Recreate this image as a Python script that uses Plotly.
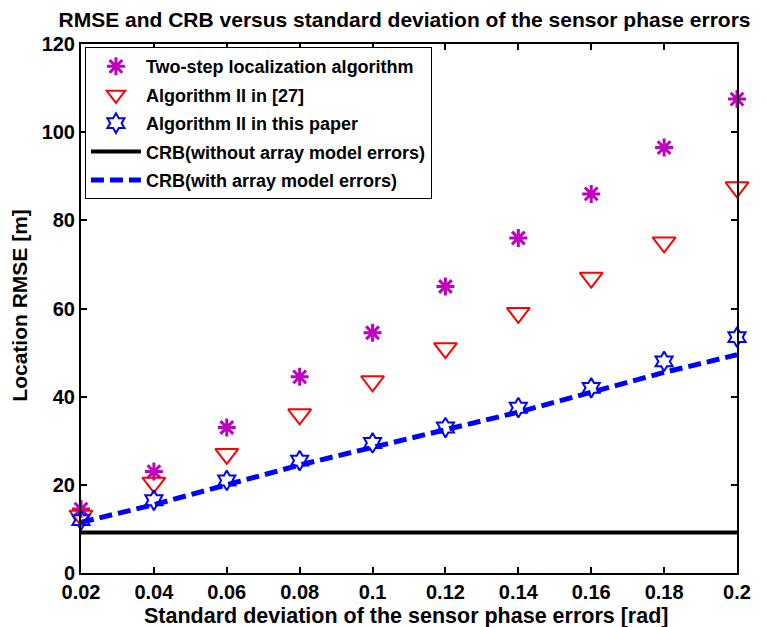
import plotly.graph_objects as go

x = [0.02, 0.04, 0.06, 0.08, 0.10, 0.12, 0.14, 0.16, 0.18, 0.20]
two_step = [14.5, 23.0, 33.0, 44.5, 54.5, 65.0, 76.0, 86.0, 96.5, 107.5]
alg_ref27 = [13.0, 20.5, 27.0, 36.0, 43.5, 51.0, 59.0, 67.0, 75.0, 87.5]
alg_this = [12.0, 16.5, 21.0, 25.5, 29.5, 33.0, 37.5, 42.0, 48.0, 53.5]
crb_with = [11.5, 15.5, 20.0, 24.5, 28.5, 32.5, 36.5, 41.0, 45.5, 49.5]
crb_without = [9.2] * 10

x_ticks = [0.02, 0.04, 0.06, 0.08, 0.1, 0.12, 0.14, 0.16, 0.18, 0.2]
x_ticklabels = ["0.02", "0.04", "0.06", "0.08", "0.1", "0.12", "0.14", "0.16", "0.18", "0.2"]
y_ticks = [0, 20, 40, 60, 80, 100, 120]
y_ticklabels = ["0", "20", "40", "60", "80", "100", "120"]

FONT = "Liberation Sans"

fig = go.Figure()
fig.add_trace(go.Scatter(x=x, y=two_step, mode="markers", name="<b>Two-step localization algorithm</b>",
                         legendgroup="g1", cliponaxis=False,
                         marker=dict(symbol="asterisk-open", size=15, color="#BF00BF",
                                     line=dict(color="#BF00BF", width=3))))
fig.add_trace(go.Scatter(x=x, y=alg_ref27, mode="markers", name="<b>Algorithm II in [27]</b>",
                         legendgroup="g2", cliponaxis=False,
                         marker=dict(symbol="triangle-down-open", size=20, color="#FF0000",
                                     line=dict(color="#FF0000", width=2))))
fig.add_trace(go.Scatter(x=x, y=alg_this, mode="markers", name="<b>Algorithm II in this paper</b>",
                         legendgroup="g3", cliponaxis=False,
                         marker=dict(symbol="hexagram-open", size=15, color="#0000FF",
                                     line=dict(color="#0000FF", width=2))))
fig.add_trace(go.Scatter(x=x, y=crb_without, mode="lines", name="<b>CRB(without array model errors)</b>",
                         legendgroup="g4",
                         line=dict(color="black", width=4)))
fig.add_trace(go.Scatter(x=x, y=crb_with, mode="lines", name="<b>CRB(with array model errors)</b>",
                         legendgroup="g5",
                         line=dict(color="#0000FF", width=5, dash="13px,6px")))

axis_common = dict(showline=True, linecolor="black", linewidth=2, mirror="allticks",
                   ticks="inside", ticklen=6, tickcolor="black", tickwidth=1.5,
                   showgrid=False, zeroline=False, automargin=False,
                   tickfont=dict(family=FONT, size=20, color="black"))

fig.update_layout(
    width=767, height=627,
    paper_bgcolor="white", plot_bgcolor="white",
    margin=dict(l=73, r=38, t=36, b=62),
    title=dict(text="<b>RMSE and CRB versus standard deviation of the sensor phase errors</b>",
               x=0.517, xanchor="center", y=0.981, yanchor="middle",
               font=dict(family=FONT, size=21, color="black")),
    xaxis=dict(range=[0.02, 0.2], tickvals=x_ticks,
               ticktext=["<b>%s</b>" % t for t in x_ticklabels],
               **axis_common),
    yaxis=dict(range=[0, 120], tickvals=y_ticks,
               ticktext=["<b>%s</b>" % t for t in y_ticklabels],
               **axis_common),
    legend=dict(x=0.006, y=0.994, xanchor="left", yanchor="top",
                bgcolor="white", bordercolor="black", borderwidth=1,
                font=dict(family=FONT, size=18, color="black"),
                itemwidth=50, tracegroupgap=2),
    annotations=[
        dict(text="<b>Standard deviation of the sensor phase errors [rad]</b>",
             xref="paper", yref="paper", x=0.495, y=-0.0813,
             xanchor="center", yanchor="middle", showarrow=False,
             font=dict(family=FONT, size=21.5, color="black")),
        dict(text="<b>Location RMSE [m]</b>",
             xref="paper", yref="paper", x=-0.095, y=0.5066, textangle=-90,
             xanchor="center", yanchor="middle", showarrow=False,
             font=dict(family=FONT, size=21, color="black")),
    ],
    showlegend=True,
)

fig.write_html("out.html")
